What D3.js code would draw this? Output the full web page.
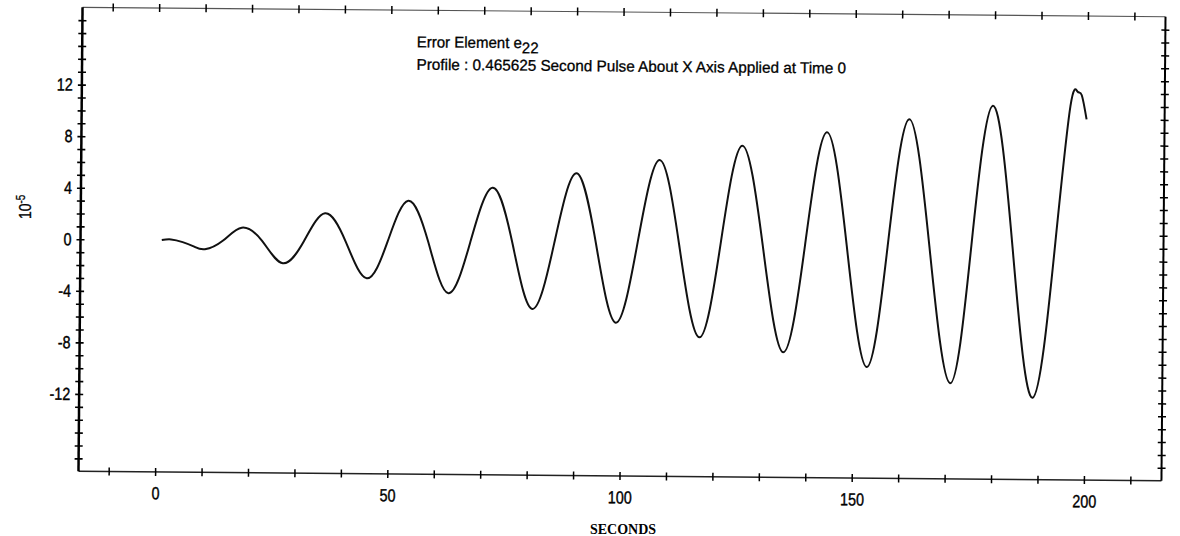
<!DOCTYPE html>
<html>
<head>
<meta charset="utf-8">
<script src="https://cdn.jsdelivr.net/npm/d3@7"></script>
<style>
  html, body { margin: 0; padding: 0; background: #fff; }
  svg { display: block; }
</style>
</head>
<body>
<div id="chart"></div>
<script>
// extrema and zero crossings (seconds, units of 1e-5)
const seconds = [1, 3, 5.5, 8, 10.3, 14.2, 18.2, 22.6, 27.1, 31.6, 36.1, 40.6, 45.2, 49.6, 54.0, 58.4,
	62.8, 67.4, 72.1, 76.5, 80.9, 85.5, 90.1, 94.5, 98.9, 103.4, 108.0, 112.4, 116.9, 121.3, 125.8,
	130.4, 135.0, 139.5, 144.0, 148.5, 153.0, 157.3, 161.7, 166.3, 171.0, 175.3, 179.7, 184.2, 188.8,
	193.3, 196.4, 197.9, 198.8, 199.9];
const errorE22 = [0, 0.05, -0.15, -0.5, -0.69, 0, 1.01, 0, -1.72, 0, 2.18, 0, -2.83, 0, 3.21, 0,
	-3.94, 0, 4.28, 0, -5.1, 0, 5.45, 0, -6.11, 0, 6.54, 0, -7.19, 0, 7.71,
	0, -8.29, 0, 8.8, 0, -9.38, 0, 9.87, 0, -10.58, 0, 10.98, 0, -11.65,
	0, 11.0, 12.13, 11.87, 9.98];

const xDomain = [-16.5, 216.7];
const yDomain = [-18, 18];
const xTicks = d3.range(-10, 211, 10);
const xLabels = [0, 50, 100, 150, 200];
const yTicks = d3.range(-17, 18, 1);
const yLabels = [-12, -8, -4, 0, 4, 8, 12];
const titleLine1 = "Error Element e";
const titleSub = "22";
const titleLine2 = "Profile :  0.465625 Second Pulse About X Axis Applied at Time 0";

const W = 1180, H = 536;
const plotLeft = 80.5, plotRight = 1163.5, plotTop = 12, plotBottom = 476;
const tilt = 0.5; // the scanned page is slightly rotated
const sans = "'Liberation Sans', Arial, sans-serif";
const squeeze = 0.82; // condensed lettering

const svg = d3.select("#chart").append("svg")
	.attr("width", W)
	.attr("height", H);

svg.append("rect").attr("width", W).attr("height", H).attr("fill", "#fff");

const x = d3.scaleLinear(xDomain, [plotLeft, plotRight]);
const y = d3.scaleLinear(yDomain, [plotBottom, plotTop]);

const plot = svg.append("g")
	.attr("transform", `rotate(${tilt}, ${(plotLeft + plotRight) / 2}, ${(plotTop + plotBottom) / 2})`);

// frame
plot.append("line").attr("x1", plotLeft).attr("x2", plotRight).attr("y1", plotTop).attr("y2", plotTop)
	.attr("stroke", "#555").attr("stroke-width", 1.2);
plot.append("line").attr("x1", plotLeft).attr("x2", plotRight).attr("y1", plotBottom).attr("y2", plotBottom)
	.attr("stroke", "#222").attr("stroke-width", 1.5);
plot.append("line").attr("x1", plotLeft).attr("x2", plotLeft).attr("y1", plotTop).attr("y2", plotBottom)
	.attr("stroke", "#000").attr("stroke-width", 2.5);
plot.append("line").attr("x1", plotRight).attr("x2", plotRight).attr("y1", plotTop).attr("y2", plotBottom)
	.attr("stroke", "#000").attr("stroke-width", 2);

const fmtX = d => (xLabels.includes(d) ? d : "");
const fmtY = d => (yLabels.includes(d) ? d : "");

// bottom axis (cross ticks)
const xAxisBottom = plot.append("g")
	.attr("transform", `translate(0, ${plotBottom})`)
	.call(d3.axisBottom(x).tickValues(xTicks).tickFormat(fmtX).tickSize(4).tickPadding(11));
xAxisBottom.select(".domain").remove();
xAxisBottom.selectAll(".tick line").attr("y1", -4).attr("stroke", "#000").attr("stroke-width", 1.5);

// top axis
const xAxisTop = plot.append("g")
	.attr("transform", `translate(0, ${plotTop})`)
	.call(d3.axisTop(x).tickValues(xTicks).tickFormat("").tickSize(4));
xAxisTop.select(".domain").remove();
xAxisTop.selectAll(".tick line").attr("y1", 4).attr("stroke", "#000").attr("stroke-width", 1.5);

// left axis
const yAxisLeft = plot.append("g")
	.attr("transform", `translate(${plotLeft}, 0)`)
	.call(d3.axisLeft(y).tickValues(yTicks).tickFormat(fmtY).tickSize(4).tickPadding(5));
yAxisLeft.select(".domain").remove();
yAxisLeft.selectAll(".tick line").attr("x1", 4).attr("stroke", "#000").attr("stroke-width", 1.6);

// right axis
const yAxisRight = plot.append("g")
	.attr("transform", `translate(${plotRight}, 0)`)
	.call(d3.axisRight(y).tickValues(yTicks).tickFormat("").tickSize(4));
yAxisRight.select(".domain").remove();
yAxisRight.selectAll(".tick line").attr("x1", -4).attr("stroke", "#000").attr("stroke-width", 1.5);

// condensed tick labels: squeeze horizontally around the tick anchor
plot.selectAll(".tick text")
	.attr("font-family", sans)
	.attr("font-size", 17.5)
	.attr("fill", "#000")
	.attr("stroke", "#000")
	.attr("stroke-width", 0.4)
	.attr("x", function () { return (+d3.select(this).attr("x") || 0) / squeeze; })
	.attr("transform", `scale(${squeeze}, 1)`);
plot.selectAll("g").attr("font-family", null).attr("font-size", null);

// curve
const line = d3.line()
	.x((d, i) => x(seconds[i]))
	.y(d => y(d))
	.curve(d3.curveNatural);

plot.append("path")
	.datum(errorE22)
	.attr("fill", "none")
	.attr("stroke", "#111")
	.attr("stroke-width", 2)
	.attr("d", line);

// annotation, scaled to the width of the typed lines
function fitText(sel, tx, ty, targetWidth) {
	const w = sel.node().getComputedTextLength();
	sel.attr("transform", `translate(${tx}, ${ty}) scale(${targetWidth / w}, 1)`);
}

const title1 = plot.append("text")
	.attr("font-family", sans)
	.attr("font-size", 15.5)
	.attr("fill", "#000")
	.attr("stroke", "#000")
	.attr("stroke-width", 0.3)
	.text(titleLine1);
title1.append("tspan")
	.attr("dy", 5)
	.text(titleSub);
fitText(title1, 415, 49, 122);

const title2 = plot.append("text")
	.attr("font-family", sans)
	.attr("font-size", 15.5)
	.attr("fill", "#000")
	.attr("stroke", "#000")
	.attr("stroke-width", 0.3)
	.text(titleLine2);
fitText(title2, 415, 71.5, 430);

// y unit label
const unit = svg.append("text")
	.attr("transform", `translate(31, 219) rotate(-90) scale(${squeeze}, 1)`)
	.attr("font-family", sans)
	.attr("font-size", 17)
	.attr("fill", "#000")
	.attr("stroke", "#000")
	.attr("stroke-width", 0.3)
	.text("10");
unit.append("tspan").attr("dy", -6).attr("font-size", 12).text("-5");

// x title
svg.append("text")
	.attr("x", 623).attr("y", 534)
	.attr("text-anchor", "middle")
	.attr("font-family", "'Liberation Serif', 'Times New Roman', serif")
	.attr("font-weight", "bold")
	.attr("font-size", 14)
	.attr("fill", "#000")
	.text("SECONDS");
</script>
</body>
</html>
